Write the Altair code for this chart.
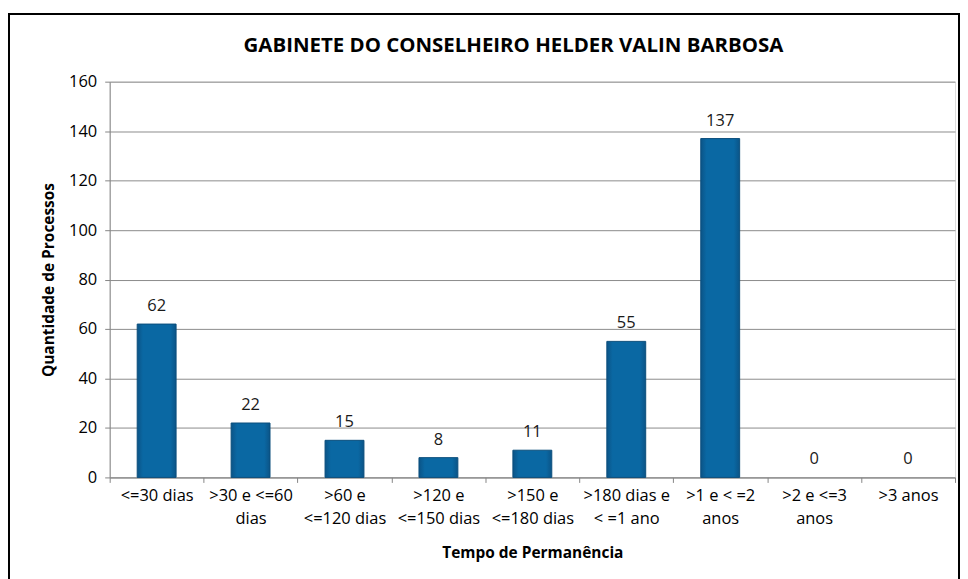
import altair as alt
import pandas as pd

categories = ["<=30 dias", ">30 e <=60\ndias", ">60 e\n<=120 dias", ">120 e\n<=150 dias",
              ">150 e\n<=180 dias", ">180 dias e\n< =1 ano", ">1 e < =2\nanos", ">2 e <=3\nanos", ">3 anos"]
values = [62, 22, 15, 8, 11, 55, 137, 0, 0]
y_ticks = [0, 20, 40, 60, 80, 100, 120, 140, 160]
title_text = "GABINETE DO CONSELHEIRO HELDER VALIN BARBOSA"

df = pd.DataFrame({"cat": categories, "val": values})
FONT = "Open Sans"
W, H = 848, 397

xenc = alt.X("cat:N", sort=categories,
             scale=alt.Scale(paddingInner=0, paddingOuter=0),
             axis=alt.Axis(title="Tempo de Permanência", labelExpr="split(datum.label, '\\n')",
                           labelAngle=0, tickBand="extent", labelFont=FONT, labelFontSize=16.5,
                           labelColor="#000000", labelPadding=5, labelLineHeight=23,
                           titleFont=FONT, titleFontSize=15.5, titleFontWeight="bold",
                           titleColor="#000000", titlePadding=19,
                           domainColor="#868686", tickColor="#868686", tickSize=5, grid=False))
yenc = alt.Y("val:Q", scale=alt.Scale(domain=[0, 160], nice=False),
             axis=alt.Axis(title="Quantidade de Processos", values=y_ticks, labelFont=FONT,
                           labelFontSize=16.5, labelColor="#000000", labelPadding=8,
                           titleFont=FONT, titleFontSize=15.5, titleFontWeight="bold",
                           titleColor="#000000", titlePadding=12,
                           domainColor="#868686", tickColor="#868686", tickSize=5,
                           gridColor="#8c8c8c", gridWidth=1))

bar_fill = alt.Gradient(gradient="linear", x1=0, x2=1, y1=0, y2=0, stops=[
    alt.GradientStop(color="#0B5487", offset=0),
    alt.GradientStop(color="#0A68A3", offset=0.15),
    alt.GradientStop(color="#0A68A3", offset=0.85),
    alt.GradientStop(color="#0B5487", offset=1),
])

base = alt.Chart(df)
bars = base.mark_bar(width=alt.RelativeBandSize(0.414), fill=bar_fill).encode(
    x=xenc, y=yenc,
    stroke=alt.condition("datum.val > 0", alt.value("#0B4E7C"), alt.value(None)),
)
labels = base.mark_text(baseline="bottom", dy=-10, font=FONT, fontSize=16.5, color="#1a1a1a").encode(
    x=alt.X("cat:N", sort=categories), y="val:Q", text="val:Q")

border = alt.Chart(pd.DataFrame({"b": [0]})).mark_rect(
    fill=None, stroke="#000000", strokeWidth=2).encode(
    x=alt.value(-101), x2=alt.value(W + 4), y=alt.value(-68), y2=alt.value(H + 120))

title = alt.Chart(pd.DataFrame({"t": [title_text]})).mark_text(
    font=FONT, fontSize=20.5, fontWeight="bold", color="#000000", baseline="middle", align="center").encode(
    text="t:N", x=alt.value(W / 2 - 19), y=alt.value(-36))

chart = alt.layer(border, bars, labels, title).properties(
    width=W, height=H,
    autosize=alt.AutoSizeParams(type="none"),
    padding={"left": 102, "top": 73, "right": 5, "bottom": 101},
).configure_view(stroke=None).configure(background="#ffffff")

chart.save("out.html", embed_options={"renderer": "svg", "actions": False})
